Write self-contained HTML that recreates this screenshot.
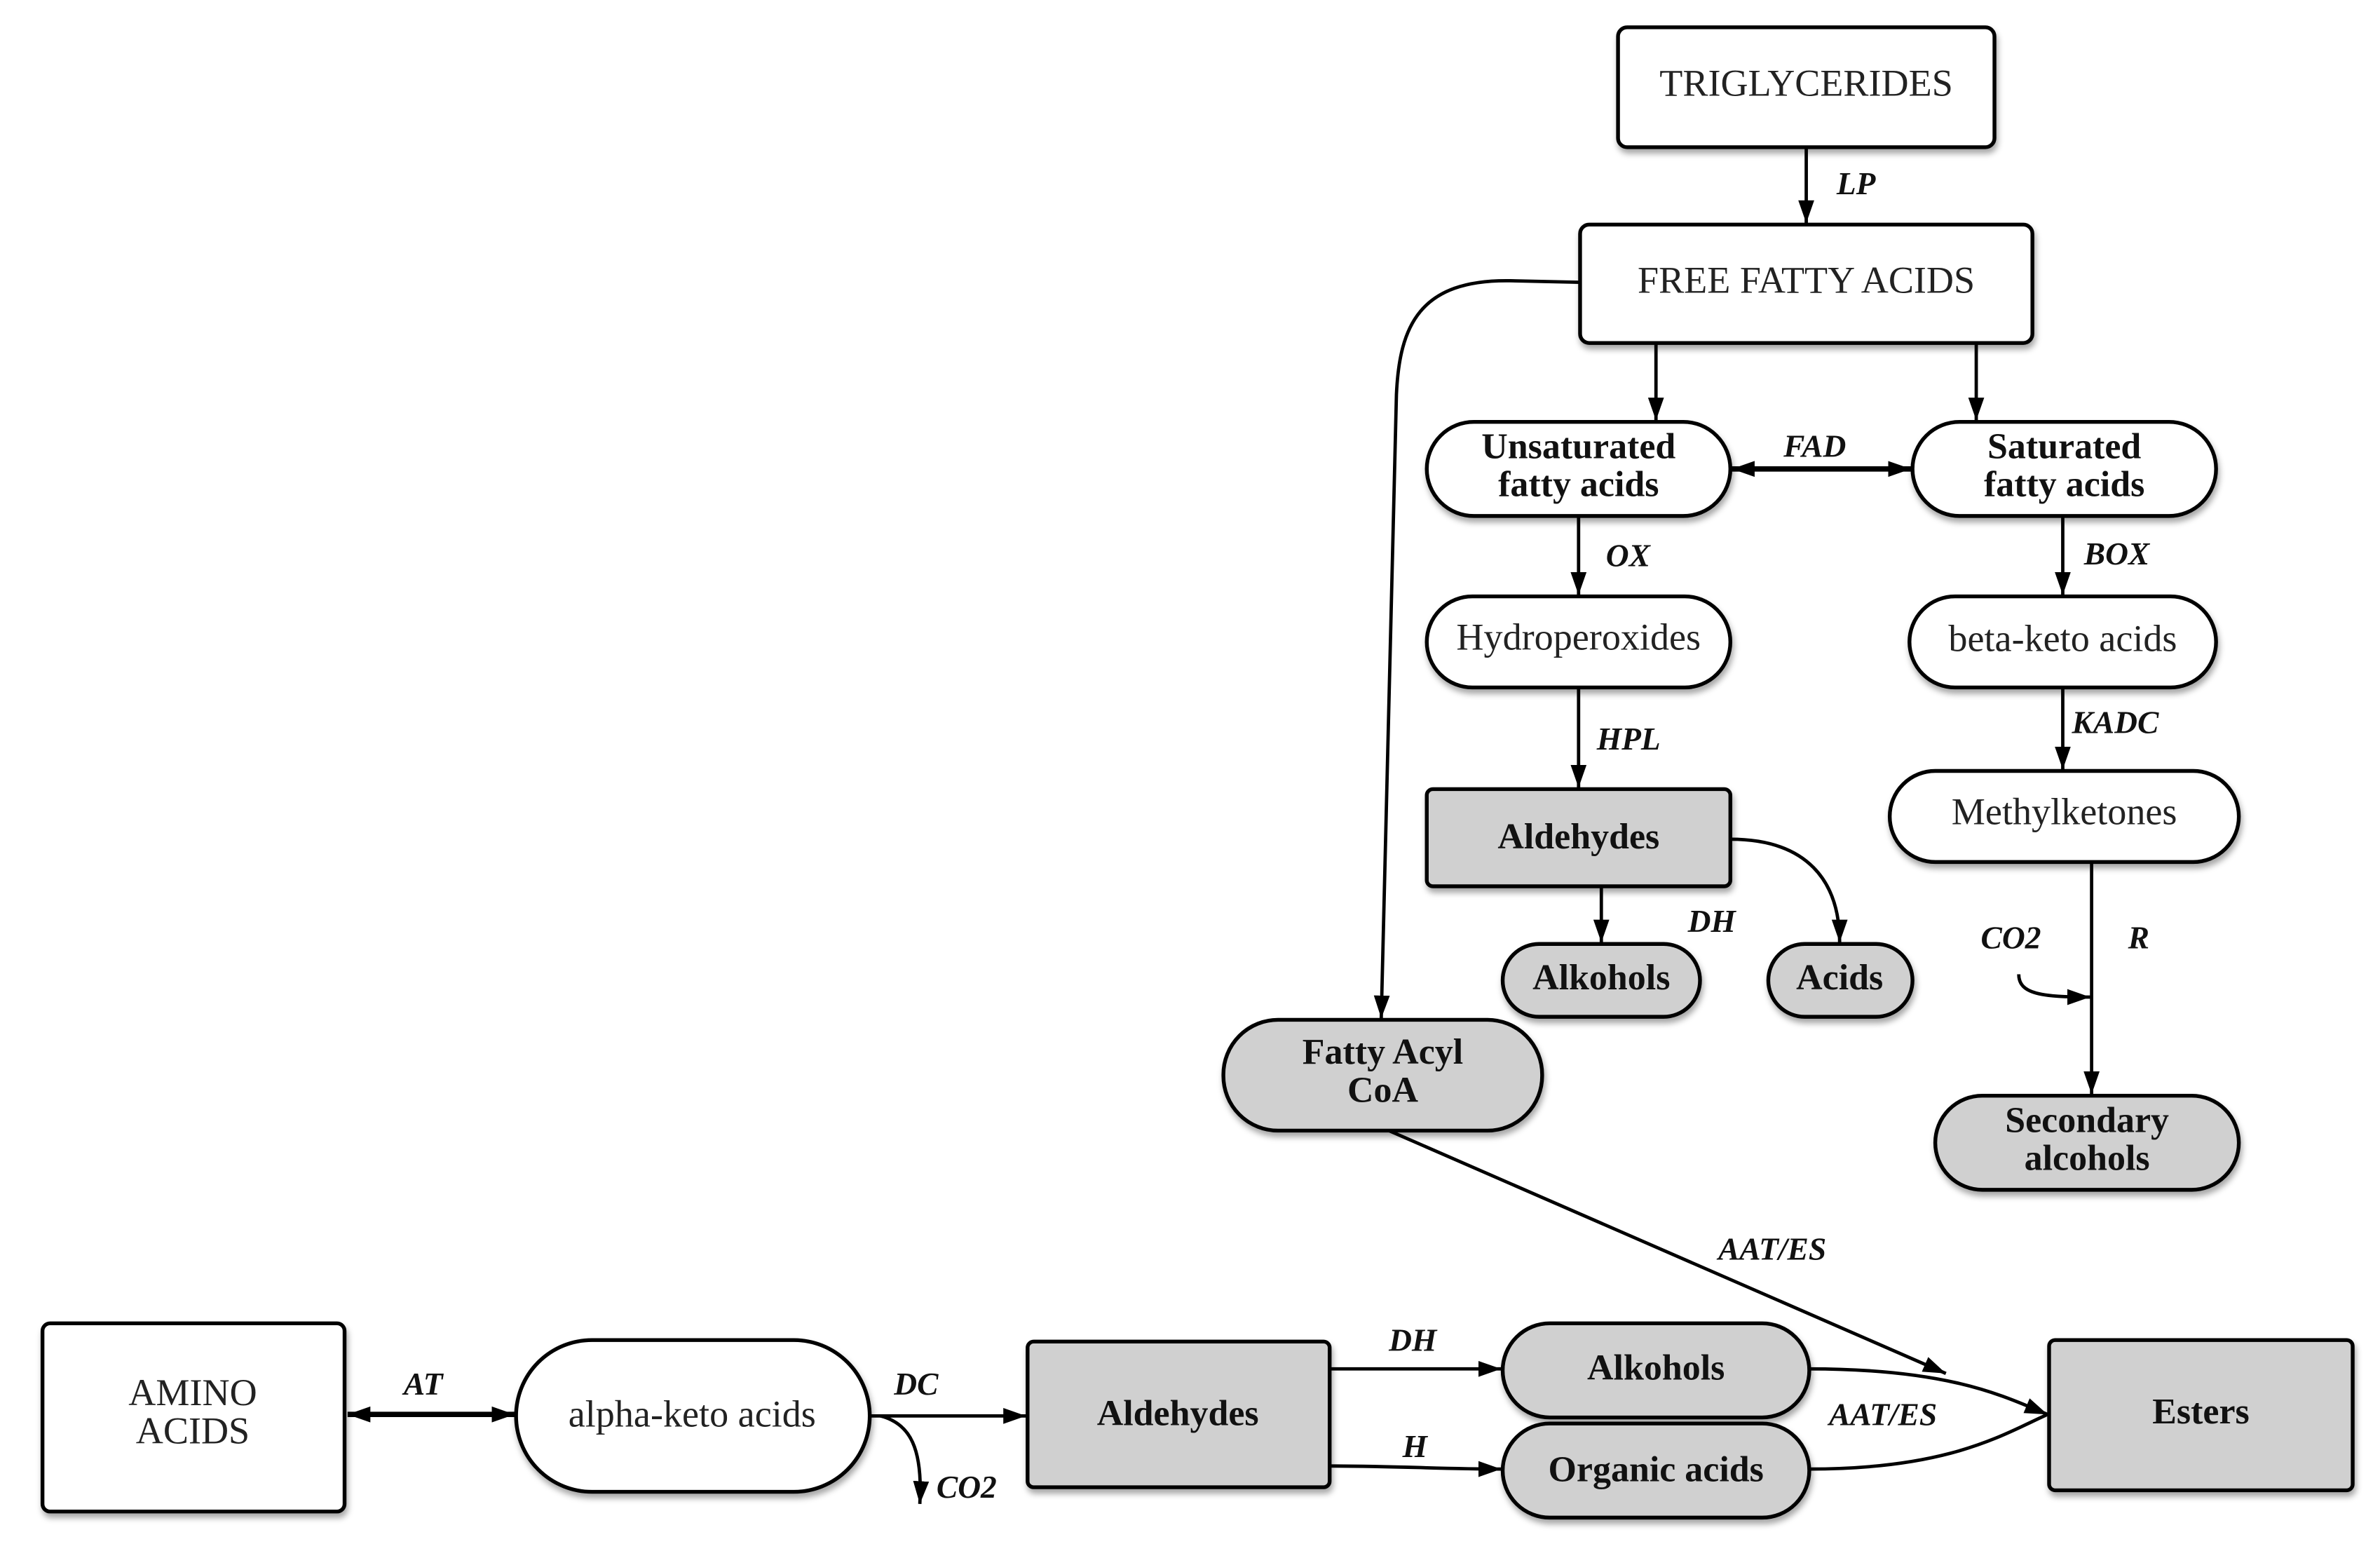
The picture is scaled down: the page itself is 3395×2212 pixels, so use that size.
<!DOCTYPE html>
<html><head><meta charset="utf-8"><style>html,body{margin:0;padding:0;background:#fff}svg{display:block}</style></head>
<body>
<svg width="3395" height="2212" viewBox="0 0 1568 1022" preserveAspectRatio="none" xmlns="http://www.w3.org/2000/svg" font-family="'Liberation Serif', serif">
<defs>
<marker id="b" viewBox="0 0 10 10" refX="10" refY="5" markerWidth="15" markerHeight="15" orient="auto-start-reverse" markerUnits="userSpaceOnUse"><path d="M0,1.5 L10,5 L0,8.5 z" fill="#000"/></marker>
<filter id="s" x="-10%" y="-10%" width="120%" height="130%"><feDropShadow dx="1" dy="3" stdDeviation="2" flood-color="#000" flood-opacity="0.35"/></filter>
</defs>
<g stroke="#000" stroke-width="2.5" filter="url(#s)">
<rect x="1066" y="18" width="248" height="79" rx="6" fill="#fff"/>
<rect x="1041" y="148" width="298" height="78" rx="6" fill="#fff"/>
<rect x="940" y="278" width="200" height="62" rx="31" fill="#fff"/>
<rect x="1260" y="278" width="200" height="62" rx="31" fill="#fff"/>
<rect x="940" y="393" width="200" height="60" rx="30" fill="#fff"/>
<rect x="1258" y="393" width="202" height="60" rx="30" fill="#fff"/>
<rect x="940" y="520" width="200" height="64" rx="4" fill="#d0d0d0"/>
<rect x="1245" y="508" width="230" height="60" rx="30" fill="#fff"/>
<rect x="990" y="622" width="130" height="48" rx="24" fill="#d0d0d0"/>
<rect x="1165" y="622" width="95" height="48" rx="24" fill="#d0d0d0"/>
<rect x="806" y="672" width="210" height="73" rx="36" fill="#d0d0d0"/>
<rect x="1275" y="722" width="200" height="62" rx="31" fill="#d0d0d0"/>
<rect x="28" y="872" width="199" height="124" rx="5" fill="#fff"/>
<rect x="340" y="883" width="233" height="100" rx="50" fill="#fff"/>
<rect x="677" y="884" width="199" height="96" rx="4" fill="#d0d0d0"/>
<rect x="990" y="872" width="202" height="62" rx="31" fill="#d0d0d0"/>
<rect x="990" y="938" width="202" height="62" rx="31" fill="#d0d0d0"/>
<rect x="1350" y="883" width="200" height="99" rx="4" fill="#d0d0d0"/>
</g>
<g stroke="#000" stroke-width="2.2" fill="none">
<line x1="1190" y1="97" x2="1190" y2="147" marker-end="url(#b)"/>
<path d="M1041,186 L995,185 C935,184 922,215 920,260 L910,671" marker-end="url(#b)"/>
<line x1="1091" y1="226" x2="1091" y2="277" marker-end="url(#b)"/>
<line x1="1302" y1="226" x2="1302" y2="277" marker-end="url(#b)"/>
<line x1="1141" y1="309" x2="1259" y2="309" stroke-width="3.5" marker-start="url(#b)" marker-end="url(#b)"/>
<line x1="1040" y1="340" x2="1040" y2="392" marker-end="url(#b)"/>
<line x1="1359" y1="340" x2="1359" y2="392" marker-end="url(#b)"/>
<line x1="1040" y1="453" x2="1040" y2="519" marker-end="url(#b)"/>
<line x1="1359" y1="453" x2="1359" y2="507" marker-end="url(#b)"/>
<line x1="1055" y1="584" x2="1055" y2="621" marker-end="url(#b)"/>
<path d="M1140,553 C1190,553 1212,580 1212,621" marker-end="url(#b)"/>
<line x1="1378" y1="568" x2="1378" y2="721" marker-end="url(#b)"/>
<path d="M1330,642 C1330,655 1345,657 1377,657" marker-end="url(#b)"/>
<line x1="915" y1="745" x2="1282" y2="905" marker-end="url(#b)"/>
<line x1="229" y1="932" x2="339" y2="932" stroke-width="3.5" marker-start="url(#b)" marker-end="url(#b)"/>
<line x1="573" y1="933" x2="676" y2="933" marker-end="url(#b)"/>
<path d="M580,933 C600,938 608,955 606,991" marker-end="url(#b)"/>
<line x1="876" y1="902" x2="989" y2="902" marker-end="url(#b)"/>
<path d="M876,966 C920,966 950,968 989,968" marker-end="url(#b)"/>
<path d="M1192,902 C1285,902 1320,920 1349,932" marker-end="url(#b)"/>
<path d="M1192,968 C1285,968 1320,945 1349,932"/>
</g>
<g font-size="25" text-anchor="middle" fill="#222">
<text x="1190" y="63">TRIGLYCERIDES</text>
<text x="1190" y="193">FREE FATTY ACIDS</text>
<text x="1040" y="428">Hydroperoxides</text>
<text x="1359" y="429">beta-keto acids</text>
<text x="1360" y="543">Methylketones</text>
<text x="127" y="926">AMINO</text>
<text x="127" y="951">ACIDS</text>
<text x="456" y="940">alpha-keto acids</text>
</g>
<g font-size="24" font-weight="bold" text-anchor="middle" fill="#111">
<text x="1040" y="302">Unsaturated</text>
<text x="1040" y="327">fatty acids</text>
<text x="1360" y="302">Saturated</text>
<text x="1360" y="327">fatty acids</text>
<text x="1040" y="559">Aldehydes</text>
<text x="1055" y="652">Alkohols</text>
<text x="1212" y="652">Acids</text>
<text x="911" y="701">Fatty Acyl</text>
<text x="911" y="726">CoA</text>
<text x="1375" y="746">Secondary</text>
<text x="1375" y="771">alcohols</text>
<text x="776" y="939">Aldehydes</text>
<text x="1091" y="909">Alkohols</text>
<text x="1091" y="976">Organic acids</text>
<text x="1450" y="938">Esters</text>
</g>
<g font-size="21" font-weight="bold" font-style="italic" fill="#111">
<text x="1210" y="128">LP</text>
<text x="1175" y="301">FAD</text>
<text x="1058" y="373">OX</text>
<text x="1373" y="372">BOX</text>
<text x="1052" y="494">HPL</text>
<text x="1365" y="483">KADC</text>
<text x="1112" y="614">DH</text>
<text x="1305" y="625">CO2</text>
<text x="1402" y="625">R</text>
<text x="1132" y="830">AAT/ES</text>
<text x="266" y="919">AT</text>
<text x="589" y="919">DC</text>
<text x="617" y="987">CO2</text>
<text x="915" y="890">DH</text>
<text x="924" y="960">H</text>
<text x="1205" y="939">AAT/ES</text>
</g>
</svg>
</body></html>
